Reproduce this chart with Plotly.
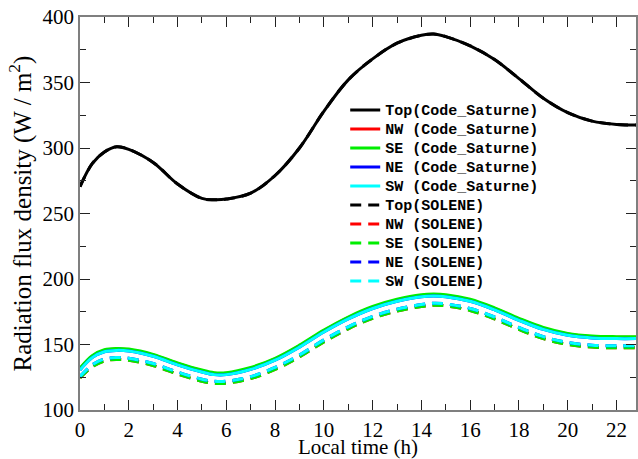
import plotly.graph_objects as go

hours = [0, 0.5, 1, 1.5, 2, 3, 4, 5, 5.5, 6, 7, 8, 9, 10, 11, 12, 13, 14, 14.5, 15, 16, 17, 18, 19, 20, 21, 22, 22.8]

top_cs = [270.5, 288, 297, 301, 299, 289, 272.5, 261.5, 260.5, 261, 265.5, 279, 300, 328, 352, 368, 380, 386, 387, 385, 378, 367.5, 353, 338, 327, 320.5, 318, 317.5]
nw_cs = [131.5, 141, 145.5, 146.5, 146, 142, 135.5, 130, 128, 128, 132, 139, 149, 160.5, 170.5, 178.5, 184, 187.5, 188, 187.5, 184, 177.5, 169.5, 162.5, 158, 156, 155.5, 155.5]
se_cs = [132, 141.5, 146, 147, 146.5, 142.5, 136, 130.5, 128.5, 128.5, 132.5, 139.5, 149.5, 161, 171, 179, 184.5, 188, 188.5, 188, 184.5, 178, 170, 163, 158.5, 156.5, 156, 156]
ne_cs = [130.5, 140, 144.5, 145.5, 145, 141, 134.5, 129, 127, 127, 131, 138, 148, 159.5, 169.5, 177.5, 183, 186.5, 187, 186.5, 183, 176.5, 168.5, 161.5, 157, 155, 154.5, 154.5]
sw_cs = [130.5, 140, 144.5, 145.5, 145, 141, 134.5, 129, 127, 127, 131, 138, 148, 159.5, 169.5, 177.5, 183, 186.5, 187, 186.5, 183, 176.5, 168.5, 161.5, 157, 155, 154.5, 154.5]

top_sol = [270.5, 288, 297, 301, 299, 289, 272.5, 261.5, 260.5, 261, 265.5, 279, 300, 328, 352, 368, 380, 386, 387, 385, 378, 367.5, 353, 338, 327, 320.5, 318, 317.5]
nw_sol = [124.5, 133, 137.5, 138.5, 138, 134, 127.5, 122, 120.5, 120.5, 124, 131, 140.5, 152, 162, 170, 175.5, 179, 180, 179.5, 176, 169.5, 161.5, 154.5, 150, 148, 147.5, 147.5]
se_sol = [124.5, 133, 137.5, 138.5, 138, 134, 127.5, 122, 120.5, 120.5, 124, 131, 140.5, 152, 162, 170, 175.5, 179, 180, 179.5, 176, 169.5, 161.5, 154.5, 150, 148, 147.5, 147.5]
ne_sol = [125.5, 134.5, 139, 140, 139.5, 135.5, 129, 123.5, 122, 122, 125.5, 132.5, 142, 153.5, 163.5, 171.5, 177, 180.5, 181.5, 181, 177.5, 171, 163, 156, 151.5, 149.5, 149, 149]
sw_sol = [125.5, 134.5, 139, 140, 139.5, 135.5, 129, 123.5, 122, 122, 125.5, 132.5, 142, 153.5, 163.5, 171.5, 177, 180.5, 181.5, 181, 177.5, 171, 163, 156, 151.5, 149.5, 149, 149]

names_cs = ["Top(Code_Saturne)", "NW (Code_Saturne)", "SE (Code_Saturne)", "NE (Code_Saturne)", "SW (Code_Saturne)"]
names_sol = ["Top(SOLENE)", "NW (SOLENE)", "SE (SOLENE)", "NE (SOLENE)", "SW (SOLENE)"]
colors = ["#000000", "#ff0000", "#00ee00", "#0000ff", "#00ffff"]

SERIF = "Liberation Serif, DejaVu Serif, serif"

fig = go.Figure()
for name, col, ys in zip(names_cs, colors, [top_cs, nw_cs, se_cs, ne_cs, sw_cs]):
    fig.add_trace(go.Scatter(x=hours, y=ys, mode="lines", line=dict(color=col, width=3, shape="spline"),
                             name='<span style="font-size:15px"><b>%s</b></span>' % name))
for name, col, ys in zip(names_sol, colors, [top_sol, nw_sol, se_sol, ne_sol, sw_sol]):
    fig.add_trace(go.Scatter(x=hours, y=ys, mode="lines", line=dict(color=col, width=3, shape="spline", dash="11px,7px"),
                             name='<span style="font-size:15px"><b>%s</b></span>' % name))

fig.update_xaxes(range=[0, 22.8], dtick=2, tick0=0,
                 showgrid=False, zeroline=False, ticks="inside", ticklen=10, tickwidth=1.2, tickcolor="#222",
                 showline=True, linecolor="#7f7f7f", linewidth=1.5, mirror="allticks",
                 tickfont=dict(family=SERIF, size=21),
                 minor=dict(ticks="inside", dtick=1, ticklen=6, tickcolor="#222", tickwidth=1.2),
                 title=dict(text="Local time (h)", font=dict(family=SERIF, size=21), standoff=1))
fig.update_yaxes(range=[100, 400], dtick=50, tick0=100,
                 showgrid=False, zeroline=False, ticks="inside", ticklen=10, tickwidth=1.2, tickcolor="#222",
                 showline=True, linecolor="#7f7f7f", linewidth=1.5, mirror="allticks",
                 tickfont=dict(family=SERIF, size=21),
                 minor=dict(ticks="inside", dtick=25, ticklen=6, tickcolor="#222", tickwidth=1.2),
                 title=dict(text="Radiation flux density (W / m<sup>2</sup>)", font=dict(family=SERIF, size=25), standoff=4))

fig.update_layout(
    width=638, height=459,
    margin=dict(l=80, r=0, t=17, b=49),
    plot_bgcolor="white", paper_bgcolor="white",
    font=dict(family=SERIF, color="black"),
    legend=dict(x=0.477, y=0.80, xanchor="left", yanchor="top", bgcolor="rgba(0,0,0,0)",
                font=dict(family="Liberation Mono", size=12), tracegroupgap=0),
    showlegend=True,
)
fig.write_html("out.html")
